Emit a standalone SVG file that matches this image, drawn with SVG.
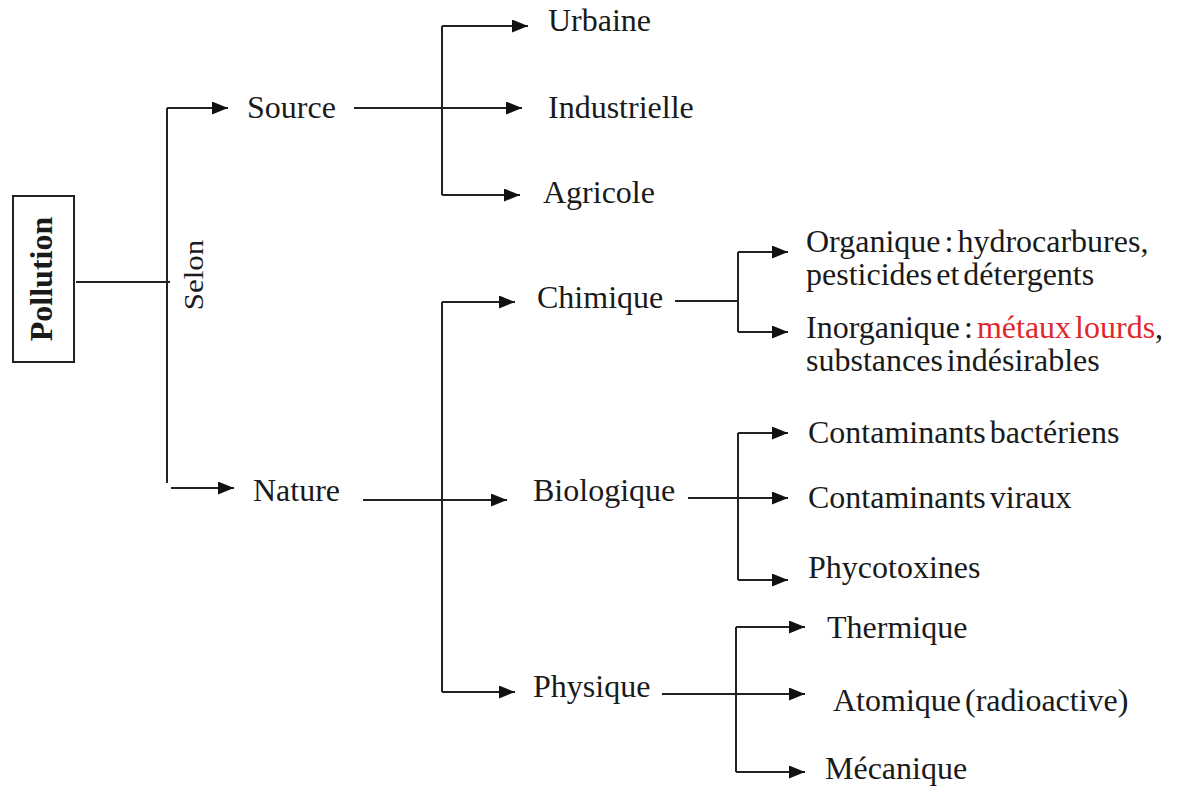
<svg xmlns="http://www.w3.org/2000/svg" width="1180" height="789" viewBox="0 0 1180 789">
<defs>
<style>
.t{font-family:"Liberation Serif","Times New Roman",serif;font-size:32px;fill:#1a1a1a;word-spacing:-4px}
.b{font-weight:bold}
.red{fill:#e0282c}
.c{fill:none;stroke:#222;stroke-width:2}
.a{fill:none;stroke:#222;stroke-width:2;marker-end:url(#ah)}
</style>
<marker id="ah" markerUnits="userSpaceOnUse" markerWidth="16" markerHeight="13" refX="16" refY="6.5" orient="auto">
<path d="M0,0 L16,6.5 L0,13 z" fill="#111"/>
</marker>
</defs>
<rect width="1180" height="789" fill="#fff"/>
<g id="connectors">
<path class="c" d="M76,282 H170"/>
<path class="c" d="M167,108 V483"/>
<path class="a" d="M167,108 H228"/>
<path class="a" d="M171,488 H234"/>
<path class="a" d="M354,108 H522"/>
<path class="c" d="M442,26 V195"/>
<path class="a" d="M442,26 H528"/>
<path class="a" d="M442,195 H520"/>
<path class="a" d="M363,500 H507"/>
<path class="c" d="M442,302 V692"/>
<path class="a" d="M442,302 H515"/>
<path class="a" d="M442,692 H515"/>
<path class="c" d="M675,301 H738"/>
<path class="c" d="M738,252 V332"/>
<path class="a" d="M738,252 H788"/>
<path class="a" d="M738,332 H788"/>
<path class="a" d="M688,498 H788"/>
<path class="c" d="M738,433 V580"/>
<path class="a" d="M738,433 H788"/>
<path class="a" d="M738,580 H788"/>
<path class="a" d="M662,694 H805"/>
<path class="c" d="M736,627 V772"/>
<path class="a" d="M736,627 H805"/>
<path class="a" d="M736,772 H805"/>
</g>
<g id="pollution">
<rect x="13" y="196" width="61" height="166" fill="#fff" stroke="#222" stroke-width="2"/>
<text class="t b" text-anchor="middle" transform="translate(52,279) rotate(-90)">Pollution</text>
</g>
<g id="selon"><text class="t" text-anchor="middle" transform="translate(203,275) rotate(-90) scale(1,0.85)" style="font-size:31px">Selon</text></g>
<g id="source"><text class="t" x="247" y="118">Source</text></g>
<g id="urbaine"><text class="t" x="548" y="31">Urbaine</text></g>
<g id="industrielle"><text class="t" x="548" y="118">Industrielle</text></g>
<g id="agricole"><text class="t" x="543" y="203">Agricole</text></g>
<g id="nature"><text class="t" x="253" y="501">Nature</text></g>
<g id="chimique"><text class="t" x="537" y="308">Chimique</text></g>
<g id="biologique"><text class="t" x="533" y="501">Biologique</text></g>
<g id="physique"><text class="t" x="533" y="697">Physique</text></g>
<g id="organique">
<text class="t" x="806" y="252">Organique : hydrocarbures,</text>
<text class="t" x="806" y="285">pesticides et détergents</text>
</g>
<g id="inorganique">
<text class="t" x="806" y="338">Inorganique : <tspan class="red">métaux lourds</tspan>,</text>
<text class="t" x="806" y="371">substances indésirables</text>
</g>
<g id="bacteriens"><text class="t" x="808" y="443">Contaminants bactériens</text></g>
<g id="viraux"><text class="t" x="808" y="508">Contaminants viraux</text></g>
<g id="phycotoxines"><text class="t" x="808" y="578">Phycotoxines</text></g>
<g id="thermique"><text class="t" x="827" y="638">Thermique</text></g>
<g id="atomique"><text class="t" x="833" y="711">Atomique (radioactive)</text></g>
<g id="mecanique"><text class="t" x="825" y="779">Mécanique</text></g>
</svg>
